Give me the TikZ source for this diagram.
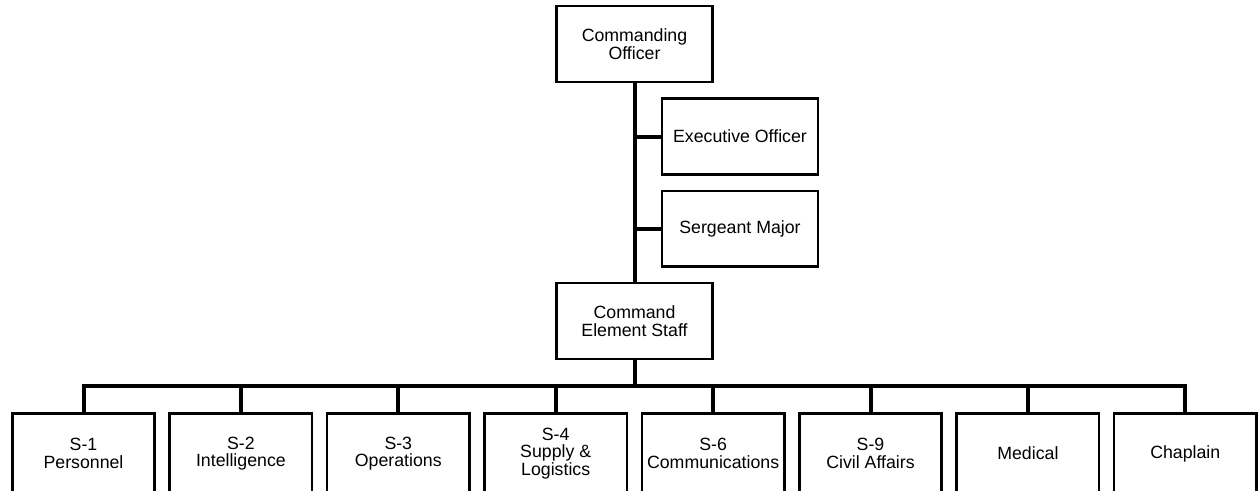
\documentclass[tikz,border=0pt]{standalone}
\usepackage{fontspec}
\setmainfont{Liberation Sans}
\usepackage{tikz}
\usetikzlibrary{positioning}
\tikzstyle{box} = [rectangle, draw, line width=1.9pt, minimum width=117.3pt, minimum height=56.8pt, align=center, font=\fontsize{13.3}{13}\selectfont]
\tikzstyle{unit} = [box, minimum width=106.8pt, minimum height=60pt]
\tikzstyle{link} = [line width=3pt]

\begin{document}
\begin{tikzpicture}[x=0.75pt, y=-0.75pt]
  \useasboundingbox (0,0) rectangle (1259,490);
  \clip (0,0) rectangle (1259,490);

  % Command group
  \node (co) [box] at (634.5,44) {Commanding\\Officer};
  \node (xo) [box] at (740,136.5) {Executive Officer};
  \node (sgm) [box, below=10.5pt of xo] {Sergeant Major};
  \node (ces) [box] at (634.5,321) {Command\\Element Staff};

  % Staff sections
  \node (s1) [unit] at (83.5,453.5) {S-1\\Personnel};
  \node (s2) [unit, right=9.35pt of s1] {S-2\\Intelligence};
  \node (s3) [unit, right=9.35pt of s2] {S-3\\Operations};
  \node (s4) [unit, right=9.35pt of s3] {S-4\\Supply \&\\Logistics};
  \node (s6) [unit, right=9.35pt of s4] {S-6\\Communications};
  \node (s9) [unit, right=9.35pt of s6] {S-9\\Civil Affairs};
  \node (med) [unit, right=9.35pt of s9] {Medical};
  \node (chap) [unit, right=9.35pt of med] {Chaplain};

  % Connectors
  \coordinate (bus) at (634.5,386);
  \draw[link] (co) -- (ces);
  \draw[link] (co.south |- xo.west) -- (xo.west);
  \draw[link] (co.south |- sgm.west) -- (sgm.west);
  \draw[link] (ces) -- (bus);
  \draw[link] (s1.north) |- (bus) -| (chap.north);
  \foreach \u in {s2,s3,s4,s6,s9,med}
    \draw[link] (\u.north) -- (\u.north |- bus);

\end{tikzpicture}
\end{document}
